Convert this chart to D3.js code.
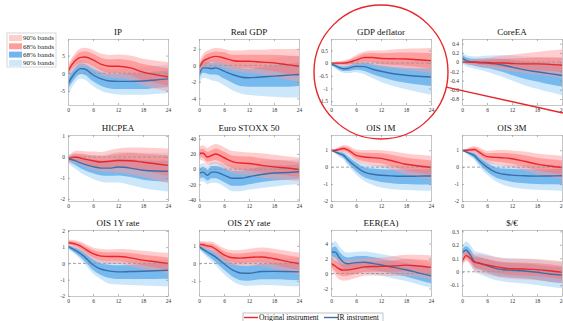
<!DOCTYPE html>
<html>
<head>
<meta charset="utf-8">
<script src="https://cdn.jsdelivr.net/npm/d3@7"></script>
<style>
  body { margin: 0; background: #fff; }
  svg { display: block; font-family: "Liberation Serif", "Times New Roman", serif; }
</style>
</head>
<body>
<svg id="chart" width="563" height="321"></svg>
<script>
// horizons (months) at which the responses were read
const horizons = [0, 1, 2, 3, 4, 6, 8, 10, 12, 15, 18, 21, 24];

// each row: [median, lo68, hi68, lo90, hi90]
const ipOrig = [[0.5,-0.5,1.5,-1.2,2.2],[2.5,1.3,3.7,0.5,4.5],[3.8,2.4,5.2,1.5,6.1],[4.5,3.0,6.0,2.0,7.0],[4.6,3.0,6.2,2.0,7.2],[3.8,2.1,5.5,1.0,6.6],[2.5,0.7,4.3,-0.5,5.5],[2.0,0.1,3.9,-1.2,5.2],[2.0,0.0,4.0,-1.4,5.3],[1.5,-0.6,3.6,-2.0,5.0],[0.3,-2.0,2.6,-3.5,4.1],[-0.4,-2.8,2.0,-4.4,3.6],[-1.0,-3.5,1.5,-5.2,3.1]];
const ipIR = [[-3.0,-4.5,-1.5,-6.0,-0.5],[-1.0,-2.5,0.5,-3.8,1.5],[0.5,-1.0,2.0,-2.2,3.0],[1.3,-0.2,2.8,-1.5,3.8],[1.2,-0.4,2.6,-1.8,3.7],[-0.5,-2.3,1.2,-3.6,2.4],[-1.6,-3.6,0.3,-5.0,1.6],[-2.2,-4.3,-0.2,-5.7,1.1],[-2.3,-4.5,-0.2,-6.0,1.2],[-2.3,-4.5,-0.1,-6.1,1.4],[-2.2,-4.5,0.1,-6.1,1.7],[-1.9,-4.2,0.5,-5.9,2.1],[-1.6,-3.9,0.8,-5.6,2.5]];

const gdpOrig = [[-0.3,-0.6,0.0,-0.9,0.3],[0.5,0.0,1.0,-0.4,1.4],[0.8,0.2,1.4,-0.2,1.8],[1.0,0.4,1.6,-0.1,2.0],[1.1,0.4,1.7,-0.1,2.1],[0.9,0.2,1.6,-0.3,2.0],[0.6,-0.1,1.3,-0.6,1.8],[0.5,-0.3,1.3,-0.8,1.8],[0.5,-0.3,1.3,-0.9,1.9],[0.4,-0.5,1.3,-1.1,1.9],[0.3,-0.7,1.3,-1.4,2.0],[0.1,-1.0,1.2,-1.7,2.0],[-0.1,-1.3,1.1,-2.0,2.0]];
const gdpIR = [[-1.1,-1.7,-0.5,-2.4,0.0],[-0.3,-0.9,0.3,-1.5,0.7],[-0.3,-1.0,0.4,-1.6,0.8],[-0.4,-1.1,0.3,-1.8,0.8],[-0.3,-1.1,0.4,-1.9,0.9],[-0.7,-1.6,0.2,-2.4,0.7],[-1.1,-2.1,-0.1,-3.0,0.5],[-1.4,-2.5,-0.3,-3.4,0.4],[-1.5,-2.6,-0.4,-3.6,0.4],[-1.4,-2.6,-0.2,-3.7,0.6],[-1.3,-2.6,0.0,-3.8,0.9],[-1.2,-2.6,0.2,-3.9,1.1],[-1.1,-2.5,0.3,-3.9,1.2]];

const deflOrig = [[0.0,-0.01,0.01,-0.02,0.02],[0.0,-0.03,0.03,-0.05,0.05],[0.0,-0.05,0.05,-0.08,0.08],[0.0,-0.06,0.06,-0.1,0.1],[0.02,-0.06,0.1,-0.1,0.14],[0.12,0.0,0.24,-0.06,0.32],[0.22,0.06,0.38,-0.03,0.46],[0.22,0.03,0.4,-0.08,0.5],[0.18,-0.03,0.39,-0.15,0.5],[0.17,-0.07,0.41,-0.2,0.54],[0.16,-0.1,0.42,-0.26,0.57],[0.13,-0.15,0.41,-0.32,0.58],[0.1,-0.2,0.4,-0.38,0.6]];
const deflIR = [[-0.03,-0.06,0.0,-0.08,0.02],[-0.1,-0.16,-0.04,-0.2,0.0],[-0.18,-0.26,-0.1,-0.32,-0.04],[-0.22,-0.31,-0.13,-0.38,-0.07],[-0.21,-0.31,-0.11,-0.39,-0.04],[-0.13,-0.26,0.0,-0.36,0.08],[-0.14,-0.31,0.03,-0.44,0.14],[-0.24,-0.44,-0.04,-0.6,0.1],[-0.32,-0.55,-0.09,-0.74,0.08],[-0.42,-0.68,-0.15,-0.9,0.06],[-0.48,-0.77,-0.19,-1.03,0.06],[-0.52,-0.84,-0.2,-1.15,0.1],[-0.55,-0.9,-0.2,-1.25,0.14]];

const coreOrig = [[0.0,-0.01,0.01,-0.02,0.02],[0.0,-0.02,0.02,-0.04,0.04],[0.0,-0.03,0.03,-0.05,0.05],[0.0,-0.04,0.04,-0.07,0.06],[-0.01,-0.05,0.04,-0.08,0.07],[-0.01,-0.07,0.05,-0.11,0.09],[-0.02,-0.09,0.06,-0.14,0.12],[-0.02,-0.11,0.07,-0.17,0.14],[-0.03,-0.13,0.08,-0.2,0.16],[-0.04,-0.15,0.09,-0.23,0.19],[-0.04,-0.17,0.1,-0.27,0.22],[-0.05,-0.19,0.1,-0.3,0.25],[-0.07,-0.22,0.1,-0.34,0.27]];
const coreIR = [[0.09,0.02,0.16,-0.03,0.21],[0.03,-0.04,0.1,-0.09,0.15],[0.01,-0.06,0.08,-0.12,0.13],[0.0,-0.08,0.07,-0.14,0.12],[-0.01,-0.1,0.07,-0.16,0.12],[-0.02,-0.13,0.08,-0.21,0.14],[-0.04,-0.17,0.08,-0.27,0.15],[-0.07,-0.22,0.07,-0.33,0.15],[-0.11,-0.28,0.05,-0.4,0.14],[-0.17,-0.36,0.02,-0.5,0.12],[-0.21,-0.42,0.0,-0.58,0.11],[-0.25,-0.48,-0.02,-0.65,0.1],[-0.29,-0.53,-0.04,-0.72,0.09]];

const hicpOrig = [[-0.13,-0.2,-0.05,-0.26,0.0],[-0.02,-0.15,0.12,-0.25,0.22],[0.0,-0.16,0.17,-0.28,0.3],[-0.05,-0.24,0.15,-0.38,0.3],[-0.1,-0.32,0.12,-0.47,0.28],[-0.18,-0.42,0.07,-0.6,0.26],[-0.24,-0.5,0.03,-0.7,0.24],[-0.2,-0.5,0.1,-0.72,0.32],[-0.17,-0.5,0.16,-0.74,0.4],[-0.18,-0.55,0.19,-0.82,0.45],[-0.25,-0.66,0.16,-0.96,0.45],[-0.32,-0.77,0.12,-1.1,0.43],[-0.4,-0.9,0.08,-1.25,0.4]];
const hicpIR = [[-0.08,-0.2,0.04,-0.3,0.14],[-0.13,-0.3,0.04,-0.45,0.16],[-0.2,-0.42,0.02,-0.6,0.16],[-0.28,-0.54,-0.02,-0.75,0.14],[-0.35,-0.63,-0.06,-0.86,0.12],[-0.46,-0.78,-0.12,-1.05,0.1],[-0.53,-0.88,-0.16,-1.18,0.1],[-0.53,-0.9,-0.14,-1.22,0.16],[-0.48,-0.88,-0.08,-1.22,0.24],[-0.53,-0.96,-0.1,-1.34,0.24],[-0.63,-1.08,-0.16,-1.48,0.2],[-0.67,-1.15,-0.18,-1.58,0.2],[-0.68,-1.18,-0.18,-1.65,0.2]];

const stoxxOrig = [[21,16,26,12,30],[21,15,27,11,31],[16,10,23,5,28],[18,11,25,6,31],[20,12,27,7,33],[15,7,23,1,29],[10,1,18,-5,24],[8,-1,17,-7,23],[7.5,-2,16.5,-8,22],[5,-4.5,14.5,-11,21],[3,-6.5,12.5,-13,19],[1.5,-8,11,-14,17],[-0.5,-10,9,-16,15]];
const stoxxIR = [[-6,-12,0,-17,5],[-4,-11,3,-16,8],[-8,-15,-1,-20,4],[-4,-12,4,-18,9],[-4,-12,4,-18,9],[-8,-17,1,-23,7],[-12,-22,-2,-29,5],[-12,-22,-2,-29,5],[-10,-20,0,-27,7],[-7,-17,3,-25,10],[-5,-15,5,-23,12],[-4.5,-14,5,-21,12],[-3.5,-13,6,-20,13]];

const ois1mOrig = [[1.0,1.0,1.0,1.0,1.0],[1.0,0.95,1.05,0.92,1.08],[1.05,0.95,1.15,0.88,1.22],[1.1,0.98,1.22,0.9,1.3],[1.02,0.87,1.17,0.77,1.28],[0.7,0.5,0.9,0.37,1.05],[0.6,0.35,0.85,0.2,1.02],[0.56,0.28,0.84,0.1,1.02],[0.52,0.22,0.82,0.02,1.0],[0.35,0.02,0.7,-0.2,0.92],[0.17,-0.2,0.55,-0.43,0.8],[0.07,-0.33,0.47,-0.58,0.73],[-0.02,-0.44,0.4,-0.7,0.67]];
const ois1mIR = [[1.0,1.0,1.0,1.0,1.0],[0.9,0.85,0.95,0.8,1.0],[0.8,0.7,0.9,0.62,0.97],[0.7,0.55,0.85,0.45,0.95],[0.45,0.26,0.64,0.12,0.78],[0.02,-0.24,0.28,-0.42,0.45],[-0.3,-0.6,0.0,-0.82,0.2],[-0.42,-0.76,-0.08,-1.05,0.14],[-0.48,-0.88,-0.12,-1.2,0.12],[-0.52,-0.96,-0.14,-1.3,0.12],[-0.54,-1.0,-0.15,-1.35,0.12],[-0.53,-1.02,-0.13,-1.38,0.14],[-0.52,-1.03,-0.11,-1.4,0.16]];

const ois3mOrig = [[1.0,1.0,1.0,1.0,1.0],[1.0,0.95,1.05,0.92,1.08],[1.02,0.92,1.12,0.85,1.19],[1.04,0.92,1.16,0.84,1.25],[0.9,0.74,1.06,0.63,1.17],[0.62,0.42,0.82,0.28,0.97],[0.58,0.33,0.83,0.17,1.0],[0.55,0.27,0.83,0.08,1.01],[0.5,0.2,0.8,0.0,0.99],[0.35,0.02,0.7,-0.2,0.92],[0.18,-0.19,0.56,-0.42,0.8],[0.07,-0.33,0.47,-0.58,0.73],[-0.02,-0.44,0.4,-0.7,0.67]];
const ois3mIR = [[1.0,1.0,1.0,1.0,1.0],[0.9,0.85,0.95,0.8,1.0],[0.8,0.7,0.9,0.62,0.97],[0.68,0.53,0.83,0.43,0.93],[0.42,0.23,0.61,0.09,0.75],[0.0,-0.26,0.26,-0.44,0.43],[-0.3,-0.6,0.0,-0.82,0.2],[-0.42,-0.76,-0.08,-1.05,0.14],[-0.47,-0.87,-0.11,-1.19,0.13],[-0.51,-0.95,-0.13,-1.29,0.13],[-0.53,-0.99,-0.14,-1.34,0.13],[-0.52,-1.01,-0.12,-1.37,0.15],[-0.51,-1.02,-0.1,-1.39,0.17]];

const ois1yOrig = [[1.27,1.17,1.37,1.1,1.45],[1.24,1.12,1.36,1.04,1.44],[1.17,1.03,1.31,0.93,1.41],[1.06,0.9,1.22,0.78,1.34],[0.9,0.72,1.08,0.58,1.22],[0.6,0.38,0.82,0.23,0.98],[0.45,0.2,0.7,0.04,0.88],[0.42,0.16,0.68,-0.02,0.86],[0.42,0.15,0.69,-0.04,0.88],[0.34,0.04,0.64,-0.17,0.86],[0.2,-0.12,0.53,-0.34,0.77],[0.1,-0.25,0.45,-0.48,0.7],[0.0,-0.37,0.37,-0.6,0.65]];
const ois1yIR = [[1.04,0.96,1.12,0.9,1.18],[0.9,0.78,1.02,0.7,1.1],[0.77,0.6,0.94,0.5,1.04],[0.6,0.38,0.82,0.24,0.96],[0.4,0.14,0.66,-0.03,0.83],[-0.08,-0.4,0.24,-0.62,0.46],[-0.36,-0.72,0.0,-0.98,0.24],[-0.47,-0.9,-0.08,-1.25,0.18],[-0.52,-0.96,-0.12,-1.3,0.15],[-0.5,-0.96,-0.08,-1.32,0.17],[-0.48,-0.96,-0.04,-1.35,0.2],[-0.45,-0.95,0.0,-1.38,0.23],[-0.42,-0.94,0.04,-1.4,0.26]];

const ois2yOrig = [[1.1,1.0,1.2,0.93,1.28],[1.06,0.94,1.18,0.86,1.26],[1.0,0.86,1.14,0.76,1.24],[0.96,0.8,1.12,0.68,1.24],[0.82,0.64,1.0,0.5,1.13],[0.48,0.26,0.7,0.1,0.86],[0.32,0.07,0.57,-0.1,0.75],[0.3,0.03,0.57,-0.16,0.76],[0.34,0.06,0.62,-0.15,0.83],[0.37,0.06,0.68,-0.16,0.9],[0.27,-0.06,0.6,-0.3,0.84],[0.12,-0.23,0.47,-0.48,0.72],[0.0,-0.36,0.36,-0.62,0.62]];
const ois2yIR = [[0.96,0.88,1.04,0.82,1.1],[0.8,0.66,0.94,0.56,1.03],[0.65,0.46,0.84,0.33,0.96],[0.52,0.28,0.76,0.12,0.9],[0.36,0.08,0.64,-0.1,0.8],[-0.02,-0.36,0.32,-0.6,0.54],[-0.36,-0.74,0.02,-1.0,0.26],[-0.54,-0.95,-0.13,-1.22,0.14],[-0.56,-0.98,-0.14,-1.27,0.15],[-0.46,-0.9,-0.02,-1.22,0.28],[-0.45,-0.9,0.0,-1.24,0.3],[-0.46,-0.92,0.0,-1.28,0.3],[-0.48,-0.95,-0.01,-1.3,0.3]];

const eerOrig = [[1.36,0.9,1.8,0.6,2.2],[1.0,0.3,1.7,-0.2,2.2],[0.6,-0.2,1.4,-0.8,2.0],[0.45,-0.35,1.25,-0.95,1.85],[0.48,-0.3,1.26,-0.9,1.85],[0.66,-0.05,1.37,-0.6,1.9],[0.88,0.2,1.56,-0.3,2.05],[0.93,0.25,1.61,-0.25,2.1],[0.95,0.25,1.65,-0.28,2.15],[1.0,0.25,1.75,-0.32,2.3],[1.12,0.3,1.94,-0.3,2.5],[1.0,0.12,1.88,-0.5,2.5],[0.82,-0.1,1.74,-0.72,2.4]];
const eerIR = [[2.86,2.3,3.4,1.8,3.9],[2.85,2.1,3.6,1.5,4.3],[2.1,1.3,2.9,0.7,3.6],[1.5,0.65,2.35,0.05,3.0],[1.3,0.45,2.15,-0.15,2.8],[1.45,0.6,2.3,0.0,2.9],[1.5,0.65,2.35,0.05,2.95],[1.35,0.5,2.2,-0.1,2.8],[1.14,0.3,2.0,-0.3,2.6],[0.82,-0.05,1.7,-0.65,2.3],[0.5,-0.4,1.4,-1.0,2.0],[0.08,-0.85,1.0,-1.45,1.65],[-0.32,-1.3,0.66,-1.9,1.3]];

const usdOrig = [[0.075,0.055,0.095,0.04,0.11],[0.12,0.095,0.145,0.08,0.16],[0.1,0.07,0.13,0.05,0.15],[0.07,0.035,0.105,0.01,0.13],[0.065,0.025,0.105,-0.002,0.13],[0.05,0.008,0.092,-0.02,0.12],[0.038,-0.006,0.082,-0.035,0.11],[0.028,-0.017,0.073,-0.046,0.1],[0.022,-0.024,0.068,-0.054,0.096],[0.02,-0.027,0.067,-0.058,0.096],[0.016,-0.032,0.064,-0.063,0.094],[0.007,-0.042,0.056,-0.073,0.087],[-0.005,-0.055,0.045,-0.085,0.078]];
const usdIR = [[0.14,0.115,0.165,0.095,0.19],[0.16,0.13,0.19,0.105,0.225],[0.125,0.085,0.165,0.055,0.2],[0.075,0.03,0.12,0.0,0.155],[0.065,0.018,0.112,-0.015,0.145],[0.045,-0.005,0.095,-0.04,0.13],[0.025,-0.027,0.077,-0.062,0.112],[0.015,-0.038,0.068,-0.073,0.103],[0.011,-0.043,0.065,-0.08,0.1],[0.006,-0.049,0.061,-0.087,0.097],[-0.004,-0.06,0.052,-0.098,0.09],[-0.017,-0.074,0.04,-0.112,0.078],[-0.025,-0.083,0.033,-0.122,0.072]];

const titles = ['IP', 'Real GDP', 'GDP deflator', 'CoreEA', 'HICPEA', 'Euro STOXX 50',
  'OIS 1M', 'OIS 3M', 'OIS 1Y rate', 'OIS 2Y rate', 'EER(EA)', '$/€'];
const origSeries = [ipOrig, gdpOrig, deflOrig, coreOrig, hicpOrig, stoxxOrig, ois1mOrig, ois3mOrig, ois1yOrig, ois2yOrig, eerOrig, usdOrig];
const irSeries = [ipIR, gdpIR, deflIR, coreIR, hicpIR, stoxxIR, ois1mIR, ois3mIR, ois1yIR, ois2yIR, eerIR, usdIR];
const yDomains = [[-9, 9.7], [-4.8, 3.2], [-1.65, 0.95], [-0.93, 0.5], [-2.1, 1.05], [-42, 45],
  [-2, 1.9], [-2, 1.9], [-2, 2.05], [-1.85, 1.9], [-3, 5.8], [-0.18, 0.31]];
const yTicks = [[-5, 0, 5], [-4, -2, 0, 2], [-1.5, -1, -0.5, 0, 0.5], [-0.8, -0.6, -0.4, -0.2, 0, 0.2, 0.4],
  [-2, -1, 0, 1], [-40, -20, 0, 20, 40], [-2, -1, 0, 1], [-2, -1, 0, 1], [-2, -1, 0, 1, 2],
  [-1, 0, 1], [-2, 0, 2, 4], [-0.1, 0, 0.1, 0.2, 0.3]];
const xTicks = [0, 6, 12, 18, 24];
const bandLabels = ['90% bands', '68% bands', '68% bands', '90% bands'];
const seriesLabels = ['Original instrument', 'IR instrument'];

// layout
const colX = [68, 199, 331, 462];
const rowY = [39, 135, 230];
const W = 100, H = 66;

const red = { line: '#e8262b', b90: '#ff9c9c', b68: '#ff6f6f', op90: 0.5, op68: 0.5 };
const blue = { line: '#3d6da6', b90: '#a3d2f6', b68: '#3c9be6', op90: 0.55, op68: 0.6 };

const svg = d3.select('#chart');
const x = d3.scaleLinear().domain([0, 24]).range([0, W]);

function drawBands(g, data, y, c) {
  const rows = data.map((r, i) => ({ h: horizons[i], m: r[0], l68: r[1], u68: r[2], l90: r[3], u90: r[4] }));
  const a90 = d3.area().x(d => x(d.h)).y0(d => y(d.l90)).y1(d => y(d.u90)).curve(d3.curveMonotoneX);
  const a68 = d3.area().x(d => x(d.h)).y0(d => y(d.l68)).y1(d => y(d.u68)).curve(d3.curveMonotoneX);
  g.append('path').attr('d', a90(rows)).attr('fill', c.b90).attr('fill-opacity', c.op90);
  g.append('path').attr('d', a68(rows)).attr('fill', c.b68).attr('fill-opacity', c.op68);
}

function drawLine(g, data, y, c) {
  const line = d3.line().x((d, i) => x(horizons[i])).y(d => y(d[0])).curve(d3.curveMonotoneX);
  g.append('path').attr('d', line(data)).attr('fill', 'none')
    .attr('stroke', c.line).attr('stroke-width', 1.4);
}

titles.forEach((title, i) => {
  const g = svg.append('g')
    .attr('transform', `translate(${colX[i % 4]},${rowY[Math.floor(i / 4)]})`);
  const y = d3.scaleLinear().domain(yDomains[i]).range([H, 0]);

  g.append('clipPath').attr('id', 'clip' + i)
    .append('rect').attr('width', W).attr('height', H);
  const plot = g.append('g').attr('clip-path', `url(#clip${i})`);

  drawBands(plot, irSeries[i], y, blue);
  drawBands(plot, origSeries[i], y, red);

  plot.append('line')
    .attr('x1', 0).attr('x2', W).attr('y1', y(0)).attr('y2', y(0))
    .attr('stroke', '#9a9a9a').attr('stroke-width', 0.9).attr('stroke-dasharray', '3,2');

  drawLine(plot, irSeries[i], y, blue);
  drawLine(plot, origSeries[i], y, red);

  // axes, ticks inside on all four sides
  const bottom = g.append('g').attr('transform', `translate(0,${H})`)
    .call(d3.axisBottom(x).tickValues(xTicks).tickSize(-2).tickSizeOuter(0).tickPadding(3));
  const left = g.append('g')
    .call(d3.axisLeft(y).tickValues(yTicks[i]).tickSize(-2).tickSizeOuter(0).tickPadding(3).tickFormat(d => String(d)));
  const top = g.append('g')
    .call(d3.axisTop(x).tickValues(xTicks).tickSize(-2).tickSizeOuter(0).tickFormat(''));
  const right = g.append('g').attr('transform', `translate(${W},0)`)
    .call(d3.axisRight(y).tickValues(yTicks[i]).tickSize(-2).tickSizeOuter(0).tickFormat(''));

  [bottom, left, top, right].forEach(ax => {
    ax.select('.domain').attr('stroke', '#b8b8b8').attr('stroke-width', 0.8);
    ax.selectAll('.tick line').attr('stroke', '#888').attr('stroke-width', 0.6);
    ax.selectAll('.tick text').attr('fill', '#333').style('font-size', '5.5px')
      .style('font-family', '"Liberation Serif", serif');
  });

  g.append('text')
    .attr('x', W / 2).attr('y', -4)
    .attr('text-anchor', 'middle')
    .style('font-size', '9px').attr('fill', '#111')
    .text(title);
});

// band legend (top left)
const bandColors = ['#ffcccc', '#ff9d9d', '#6fb6ee', '#cfe7fb'];
const lg = svg.append('g').attr('transform', 'translate(7,33)');
lg.append('rect').attr('width', 49).attr('height', 34)
  .attr('fill', '#fff').attr('stroke', '#bbb').attr('stroke-width', 0.6);
bandLabels.forEach((lab, k) => {
  lg.append('rect').attr('x', 2).attr('y', 2 + k * 8.3).attr('width', 13).attr('height', 6)
    .attr('fill', bandColors[k]);
  lg.append('text').attr('x', 16).attr('y', 7.3 + k * 8.3)
    .style('font-size', '7px').attr('fill', '#222').text(lab);
});

// series legend (bottom)
const bl = svg.append('g').attr('transform', 'translate(243,313)');
bl.append('rect').attr('width', 140).attr('height', 10)
  .attr('fill', '#fff').attr('stroke', '#999').attr('stroke-width', 0.6);
[[red, 1, 16, seriesLabels[0]], [blue, 81, 94, seriesLabels[1]]].forEach(([c, x0, tx, lab]) => {
  bl.append('line').attr('x1', x0).attr('x2', x0 + 14).attr('y1', 4.5).attr('y2', 4.5)
    .attr('stroke', c.line).attr('stroke-width', 1.4);
  bl.append('text').attr('x', tx).attr('y', 7.2)
    .style('font-size', '7.6px').attr('fill', '#111').text(lab);
});

// highlight circle round the GDP deflator panel and its pointer line
const cx = colX[2] + W / 2, cy = rowY[0] + H / 2, r = 67;
svg.append('circle').attr('cx', cx).attr('cy', cy).attr('r', r)
  .attr('fill', 'none').attr('stroke', '#e8262b').attr('stroke-width', 1.4);
const ang = Math.atan2(15, 65);
svg.append('line')
  .attr('x1', cx + r * Math.cos(ang)).attr('y1', cy + r * Math.sin(ang))
  .attr('x2', 563).attr('y2', 113)
  .attr('stroke', '#e8262b').attr('stroke-width', 1.4);
</script>
</body>
</html>
